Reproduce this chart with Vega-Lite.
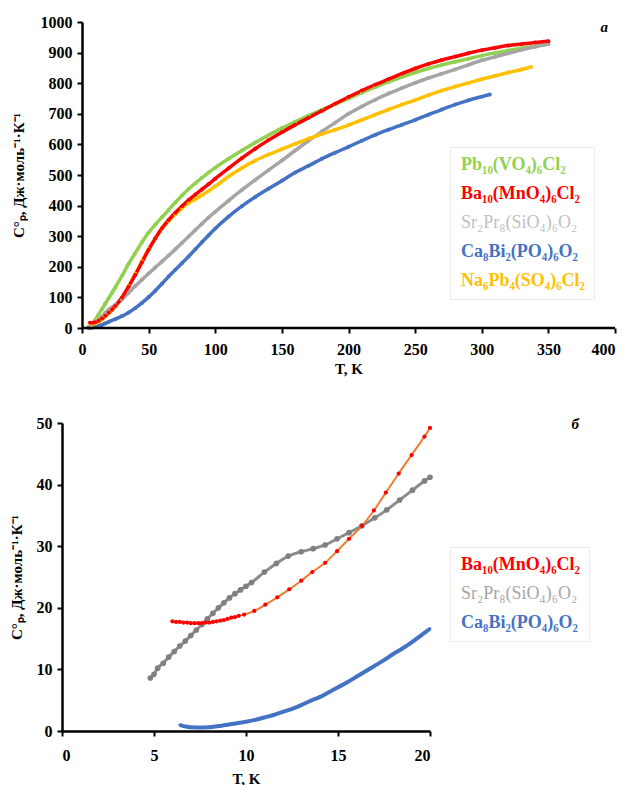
{
  "$schema": "https://vega.github.io/schema/vega-lite/v6.json",
  "padding": {"left": 9, "top": 14, "right": 0, "bottom": 0},
  "background": "white",
  "spacing": 39,
  "config": {
    "view": {"stroke": null},
    "axis": {
      "labelFont": "Liberation Serif", "labelFontWeight": "bold", "labelFontSize": 16, "labelColor": "black",
      "titleFont": "Liberation Serif", "titleFontWeight": "bold", "titleFontSize": 15, "titleColor": "black",
      "domainColor": "black", "domainWidth": 2.5, "tickColor": "black", "tickWidth": 2, "tickSize": 5,
      "grid": false
    },
    "axisX": {"labelPadding": 8},
    "axisY": {"labelPadding": 5},
    "text": {"font": "Liberation Serif"}
  },
  "resolve": {"scale": {"color": "independent"}, "legend": {"color": "independent"}},
  "datasets": {
    "top": [
      {"s":"Pb₁₀(VO₄)₆Cl₂","T":5,"Cp":3},{"s":"Pb₁₀(VO₄)₆Cl₂","T":7.5,"Cp":12},{"s":"Pb₁₀(VO₄)₆Cl₂","T":10,"Cp":27},{"s":"Pb₁₀(VO₄)₆Cl₂","T":12.5,"Cp":45},{"s":"Pb₁₀(VO₄)₆Cl₂","T":15,"Cp":62},{"s":"Pb₁₀(VO₄)₆Cl₂","T":17.5,"Cp":80},{"s":"Pb₁₀(VO₄)₆Cl₂","T":20,"Cp":97},{"s":"Pb₁₀(VO₄)₆Cl₂","T":22.5,"Cp":115},{"s":"Pb₁₀(VO₄)₆Cl₂","T":25,"Cp":133},{"s":"Pb₁₀(VO₄)₆Cl₂","T":30,"Cp":170},{"s":"Pb₁₀(VO₄)₆Cl₂","T":35,"Cp":210},{"s":"Pb₁₀(VO₄)₆Cl₂","T":40,"Cp":245},{"s":"Pb₁₀(VO₄)₆Cl₂","T":45,"Cp":280},{"s":"Pb₁₀(VO₄)₆Cl₂","T":50,"Cp":312},{"s":"Pb₁₀(VO₄)₆Cl₂","T":55,"Cp":338},{"s":"Pb₁₀(VO₄)₆Cl₂","T":60,"Cp":362},{"s":"Pb₁₀(VO₄)₆Cl₂","T":65,"Cp":386},{"s":"Pb₁₀(VO₄)₆Cl₂","T":70,"Cp":410},{"s":"Pb₁₀(VO₄)₆Cl₂","T":75,"Cp":433},{"s":"Pb₁₀(VO₄)₆Cl₂","T":80,"Cp":454},{"s":"Pb₁₀(VO₄)₆Cl₂","T":85,"Cp":473},{"s":"Pb₁₀(VO₄)₆Cl₂","T":90,"Cp":491},{"s":"Pb₁₀(VO₄)₆Cl₂","T":95,"Cp":508},{"s":"Pb₁₀(VO₄)₆Cl₂","T":100,"Cp":524},{"s":"Pb₁₀(VO₄)₆Cl₂","T":110,"Cp":553},{"s":"Pb₁₀(VO₄)₆Cl₂","T":120,"Cp":580},{"s":"Pb₁₀(VO₄)₆Cl₂","T":130,"Cp":606},{"s":"Pb₁₀(VO₄)₆Cl₂","T":140,"Cp":630},{"s":"Pb₁₀(VO₄)₆Cl₂","T":150,"Cp":653},{"s":"Pb₁₀(VO₄)₆Cl₂","T":160,"Cp":674},{"s":"Pb₁₀(VO₄)₆Cl₂","T":170,"Cp":694},{"s":"Pb₁₀(VO₄)₆Cl₂","T":180,"Cp":713},{"s":"Pb₁₀(VO₄)₆Cl₂","T":190,"Cp":731},{"s":"Pb₁₀(VO₄)₆Cl₂","T":200,"Cp":750},{"s":"Pb₁₀(VO₄)₆Cl₂","T":210,"Cp":769},{"s":"Pb₁₀(VO₄)₆Cl₂","T":220,"Cp":787},{"s":"Pb₁₀(VO₄)₆Cl₂","T":230,"Cp":804},{"s":"Pb₁₀(VO₄)₆Cl₂","T":240,"Cp":820},{"s":"Pb₁₀(VO₄)₆Cl₂","T":250,"Cp":835},{"s":"Pb₁₀(VO₄)₆Cl₂","T":260,"Cp":848},{"s":"Pb₁₀(VO₄)₆Cl₂","T":270,"Cp":860},{"s":"Pb₁₀(VO₄)₆Cl₂","T":280,"Cp":870},{"s":"Pb₁₀(VO₄)₆Cl₂","T":290,"Cp":880},{"s":"Pb₁₀(VO₄)₆Cl₂","T":300,"Cp":890},{"s":"Pb₁₀(VO₄)₆Cl₂","T":310,"Cp":899},{"s":"Pb₁₀(VO₄)₆Cl₂","T":320,"Cp":907},{"s":"Pb₁₀(VO₄)₆Cl₂","T":330,"Cp":914},{"s":"Pb₁₀(VO₄)₆Cl₂","T":340,"Cp":921},{"s":"Pb₁₀(VO₄)₆Cl₂","T":350,"Cp":928},
      {"s":"Sr₂Pr₈(SiO₄)₆O₂","T":5,"Cp":3},{"s":"Sr₂Pr₈(SiO₄)₆O₂","T":7.5,"Cp":8},{"s":"Sr₂Pr₈(SiO₄)₆O₂","T":10,"Cp":15},{"s":"Sr₂Pr₈(SiO₄)₆O₂","T":12.5,"Cp":25},{"s":"Sr₂Pr₈(SiO₄)₆O₂","T":15,"Cp":37},{"s":"Sr₂Pr₈(SiO₄)₆O₂","T":17.5,"Cp":50},{"s":"Sr₂Pr₈(SiO₄)₆O₂","T":20,"Cp":60},{"s":"Sr₂Pr₈(SiO₄)₆O₂","T":25,"Cp":76},{"s":"Sr₂Pr₈(SiO₄)₆O₂","T":30,"Cp":93},{"s":"Sr₂Pr₈(SiO₄)₆O₂","T":35,"Cp":115},{"s":"Sr₂Pr₈(SiO₄)₆O₂","T":40,"Cp":137},{"s":"Sr₂Pr₈(SiO₄)₆O₂","T":45,"Cp":158},{"s":"Sr₂Pr₈(SiO₄)₆O₂","T":50,"Cp":178},{"s":"Sr₂Pr₈(SiO₄)₆O₂","T":55,"Cp":198},{"s":"Sr₂Pr₈(SiO₄)₆O₂","T":60,"Cp":217},{"s":"Sr₂Pr₈(SiO₄)₆O₂","T":65,"Cp":237},{"s":"Sr₂Pr₈(SiO₄)₆O₂","T":70,"Cp":257},{"s":"Sr₂Pr₈(SiO₄)₆O₂","T":75,"Cp":278},{"s":"Sr₂Pr₈(SiO₄)₆O₂","T":80,"Cp":299},{"s":"Sr₂Pr₈(SiO₄)₆O₂","T":85,"Cp":320},{"s":"Sr₂Pr₈(SiO₄)₆O₂","T":90,"Cp":341},{"s":"Sr₂Pr₈(SiO₄)₆O₂","T":95,"Cp":361},{"s":"Sr₂Pr₈(SiO₄)₆O₂","T":100,"Cp":380},{"s":"Sr₂Pr₈(SiO₄)₆O₂","T":110,"Cp":416},{"s":"Sr₂Pr₈(SiO₄)₆O₂","T":120,"Cp":451},{"s":"Sr₂Pr₈(SiO₄)₆O₂","T":130,"Cp":484},{"s":"Sr₂Pr₈(SiO₄)₆O₂","T":140,"Cp":516},{"s":"Sr₂Pr₈(SiO₄)₆O₂","T":150,"Cp":547},{"s":"Sr₂Pr₈(SiO₄)₆O₂","T":160,"Cp":580},{"s":"Sr₂Pr₈(SiO₄)₆O₂","T":170,"Cp":612},{"s":"Sr₂Pr₈(SiO₄)₆O₂","T":180,"Cp":642},{"s":"Sr₂Pr₈(SiO₄)₆O₂","T":190,"Cp":671},{"s":"Sr₂Pr₈(SiO₄)₆O₂","T":200,"Cp":700},{"s":"Sr₂Pr₈(SiO₄)₆O₂","T":210,"Cp":724},{"s":"Sr₂Pr₈(SiO₄)₆O₂","T":220,"Cp":746},{"s":"Sr₂Pr₈(SiO₄)₆O₂","T":230,"Cp":766},{"s":"Sr₂Pr₈(SiO₄)₆O₂","T":240,"Cp":784},{"s":"Sr₂Pr₈(SiO₄)₆O₂","T":250,"Cp":801},{"s":"Sr₂Pr₈(SiO₄)₆O₂","T":260,"Cp":817},{"s":"Sr₂Pr₈(SiO₄)₆O₂","T":270,"Cp":831},{"s":"Sr₂Pr₈(SiO₄)₆O₂","T":280,"Cp":845},{"s":"Sr₂Pr₈(SiO₄)₆O₂","T":290,"Cp":860},{"s":"Sr₂Pr₈(SiO₄)₆O₂","T":300,"Cp":875},{"s":"Sr₂Pr₈(SiO₄)₆O₂","T":310,"Cp":886},{"s":"Sr₂Pr₈(SiO₄)₆O₂","T":320,"Cp":898},{"s":"Sr₂Pr₈(SiO₄)₆O₂","T":330,"Cp":909},{"s":"Sr₂Pr₈(SiO₄)₆O₂","T":340,"Cp":919},{"s":"Sr₂Pr₈(SiO₄)₆O₂","T":350,"Cp":928},
      {"s":"Ca₈Bi₂(PO₄)₆O₂","T":5,"Cp":0},{"s":"Ca₈Bi₂(PO₄)₆O₂","T":7.5,"Cp":1},{"s":"Ca₈Bi₂(PO₄)₆O₂","T":10,"Cp":3},{"s":"Ca₈Bi₂(PO₄)₆O₂","T":12.5,"Cp":6},{"s":"Ca₈Bi₂(PO₄)₆O₂","T":15,"Cp":10},{"s":"Ca₈Bi₂(PO₄)₆O₂","T":17.5,"Cp":15},{"s":"Ca₈Bi₂(PO₄)₆O₂","T":20,"Cp":20},{"s":"Ca₈Bi₂(PO₄)₆O₂","T":25,"Cp":29},{"s":"Ca₈Bi₂(PO₄)₆O₂","T":30,"Cp":39},{"s":"Ca₈Bi₂(PO₄)₆O₂","T":35,"Cp":51},{"s":"Ca₈Bi₂(PO₄)₆O₂","T":40,"Cp":65},{"s":"Ca₈Bi₂(PO₄)₆O₂","T":45,"Cp":82},{"s":"Ca₈Bi₂(PO₄)₆O₂","T":50,"Cp":101},{"s":"Ca₈Bi₂(PO₄)₆O₂","T":55,"Cp":122},{"s":"Ca₈Bi₂(PO₄)₆O₂","T":60,"Cp":145},{"s":"Ca₈Bi₂(PO₄)₆O₂","T":65,"Cp":168},{"s":"Ca₈Bi₂(PO₄)₆O₂","T":70,"Cp":190},{"s":"Ca₈Bi₂(PO₄)₆O₂","T":75,"Cp":212},{"s":"Ca₈Bi₂(PO₄)₆O₂","T":80,"Cp":234},{"s":"Ca₈Bi₂(PO₄)₆O₂","T":85,"Cp":257},{"s":"Ca₈Bi₂(PO₄)₆O₂","T":90,"Cp":280},{"s":"Ca₈Bi₂(PO₄)₆O₂","T":95,"Cp":303},{"s":"Ca₈Bi₂(PO₄)₆O₂","T":100,"Cp":325},{"s":"Ca₈Bi₂(PO₄)₆O₂","T":110,"Cp":364},{"s":"Ca₈Bi₂(PO₄)₆O₂","T":120,"Cp":398},{"s":"Ca₈Bi₂(PO₄)₆O₂","T":130,"Cp":428},{"s":"Ca₈Bi₂(PO₄)₆O₂","T":140,"Cp":455},{"s":"Ca₈Bi₂(PO₄)₆O₂","T":150,"Cp":481},{"s":"Ca₈Bi₂(PO₄)₆O₂","T":160,"Cp":508},{"s":"Ca₈Bi₂(PO₄)₆O₂","T":170,"Cp":530},{"s":"Ca₈Bi₂(PO₄)₆O₂","T":180,"Cp":553},{"s":"Ca₈Bi₂(PO₄)₆O₂","T":190,"Cp":573},{"s":"Ca₈Bi₂(PO₄)₆O₂","T":200,"Cp":592},{"s":"Ca₈Bi₂(PO₄)₆O₂","T":210,"Cp":612},{"s":"Ca₈Bi₂(PO₄)₆O₂","T":220,"Cp":631},{"s":"Ca₈Bi₂(PO₄)₆O₂","T":230,"Cp":648},{"s":"Ca₈Bi₂(PO₄)₆O₂","T":240,"Cp":664},{"s":"Ca₈Bi₂(PO₄)₆O₂","T":250,"Cp":680},{"s":"Ca₈Bi₂(PO₄)₆O₂","T":260,"Cp":697},{"s":"Ca₈Bi₂(PO₄)₆O₂","T":270,"Cp":714},{"s":"Ca₈Bi₂(PO₄)₆O₂","T":280,"Cp":730},{"s":"Ca₈Bi₂(PO₄)₆O₂","T":290,"Cp":744},{"s":"Ca₈Bi₂(PO₄)₆O₂","T":300,"Cp":756},{"s":"Ca₈Bi₂(PO₄)₆O₂","T":306,"Cp":763},
      {"s":"Na₆Pb₄(SO₄)₆Cl₂","T":7,"Cp":10},{"s":"Na₆Pb₄(SO₄)₆Cl₂","T":10,"Cp":15},{"s":"Na₆Pb₄(SO₄)₆Cl₂","T":12.5,"Cp":20},{"s":"Na₆Pb₄(SO₄)₆Cl₂","T":15,"Cp":28},{"s":"Na₆Pb₄(SO₄)₆Cl₂","T":17.5,"Cp":38},{"s":"Na₆Pb₄(SO₄)₆Cl₂","T":20,"Cp":48},{"s":"Na₆Pb₄(SO₄)₆Cl₂","T":22.5,"Cp":58},{"s":"Na₆Pb₄(SO₄)₆Cl₂","T":25,"Cp":70},{"s":"Na₆Pb₄(SO₄)₆Cl₂","T":30,"Cp":100},{"s":"Na₆Pb₄(SO₄)₆Cl₂","T":35,"Cp":137},{"s":"Na₆Pb₄(SO₄)₆Cl₂","T":40,"Cp":177},{"s":"Na₆Pb₄(SO₄)₆Cl₂","T":45,"Cp":218},{"s":"Na₆Pb₄(SO₄)₆Cl₂","T":50,"Cp":257},{"s":"Na₆Pb₄(SO₄)₆Cl₂","T":55,"Cp":293},{"s":"Na₆Pb₄(SO₄)₆Cl₂","T":60,"Cp":325},{"s":"Na₆Pb₄(SO₄)₆Cl₂","T":65,"Cp":350},{"s":"Na₆Pb₄(SO₄)₆Cl₂","T":70,"Cp":372},{"s":"Na₆Pb₄(SO₄)₆Cl₂","T":75,"Cp":392},{"s":"Na₆Pb₄(SO₄)₆Cl₂","T":80,"Cp":408},{"s":"Na₆Pb₄(SO₄)₆Cl₂","T":85,"Cp":421},{"s":"Na₆Pb₄(SO₄)₆Cl₂","T":90,"Cp":434},{"s":"Na₆Pb₄(SO₄)₆Cl₂","T":95,"Cp":448},{"s":"Na₆Pb₄(SO₄)₆Cl₂","T":100,"Cp":463},{"s":"Na₆Pb₄(SO₄)₆Cl₂","T":110,"Cp":495},{"s":"Na₆Pb₄(SO₄)₆Cl₂","T":120,"Cp":523},{"s":"Na₆Pb₄(SO₄)₆Cl₂","T":130,"Cp":547},{"s":"Na₆Pb₄(SO₄)₆Cl₂","T":140,"Cp":567},{"s":"Na₆Pb₄(SO₄)₆Cl₂","T":150,"Cp":585},{"s":"Na₆Pb₄(SO₄)₆Cl₂","T":160,"Cp":602},{"s":"Na₆Pb₄(SO₄)₆Cl₂","T":170,"Cp":619},{"s":"Na₆Pb₄(SO₄)₆Cl₂","T":180,"Cp":634},{"s":"Na₆Pb₄(SO₄)₆Cl₂","T":190,"Cp":648},{"s":"Na₆Pb₄(SO₄)₆Cl₂","T":200,"Cp":663},{"s":"Na₆Pb₄(SO₄)₆Cl₂","T":210,"Cp":680},{"s":"Na₆Pb₄(SO₄)₆Cl₂","T":220,"Cp":697},{"s":"Na₆Pb₄(SO₄)₆Cl₂","T":230,"Cp":714},{"s":"Na₆Pb₄(SO₄)₆Cl₂","T":240,"Cp":730},{"s":"Na₆Pb₄(SO₄)₆Cl₂","T":250,"Cp":745},{"s":"Na₆Pb₄(SO₄)₆Cl₂","T":260,"Cp":761},{"s":"Na₆Pb₄(SO₄)₆Cl₂","T":270,"Cp":776},{"s":"Na₆Pb₄(SO₄)₆Cl₂","T":280,"Cp":789},{"s":"Na₆Pb₄(SO₄)₆Cl₂","T":290,"Cp":801},{"s":"Na₆Pb₄(SO₄)₆Cl₂","T":300,"Cp":813},{"s":"Na₆Pb₄(SO₄)₆Cl₂","T":310,"Cp":824},{"s":"Na₆Pb₄(SO₄)₆Cl₂","T":320,"Cp":835},{"s":"Na₆Pb₄(SO₄)₆Cl₂","T":330,"Cp":845},{"s":"Na₆Pb₄(SO₄)₆Cl₂","T":337,"Cp":853},
      {"s":"Ba₁₀(MnO₄)₆Cl₂","T":6,"Cp":17},{"s":"Ba₁₀(MnO₄)₆Cl₂","T":8,"Cp":17},{"s":"Ba₁₀(MnO₄)₆Cl₂","T":10,"Cp":19},{"s":"Ba₁₀(MnO₄)₆Cl₂","T":12.5,"Cp":24},{"s":"Ba₁₀(MnO₄)₆Cl₂","T":15,"Cp":31},{"s":"Ba₁₀(MnO₄)₆Cl₂","T":17.5,"Cp":40},{"s":"Ba₁₀(MnO₄)₆Cl₂","T":20,"Cp":50},{"s":"Ba₁₀(MnO₄)₆Cl₂","T":22.5,"Cp":60},{"s":"Ba₁₀(MnO₄)₆Cl₂","T":25,"Cp":72},{"s":"Ba₁₀(MnO₄)₆Cl₂","T":30,"Cp":100},{"s":"Ba₁₀(MnO₄)₆Cl₂","T":35,"Cp":135},{"s":"Ba₁₀(MnO₄)₆Cl₂","T":40,"Cp":174},{"s":"Ba₁₀(MnO₄)₆Cl₂","T":45,"Cp":215},{"s":"Ba₁₀(MnO₄)₆Cl₂","T":50,"Cp":256},{"s":"Ba₁₀(MnO₄)₆Cl₂","T":55,"Cp":293},{"s":"Ba₁₀(MnO₄)₆Cl₂","T":60,"Cp":326},{"s":"Ba₁₀(MnO₄)₆Cl₂","T":65,"Cp":353},{"s":"Ba₁₀(MnO₄)₆Cl₂","T":70,"Cp":377},{"s":"Ba₁₀(MnO₄)₆Cl₂","T":75,"Cp":398},{"s":"Ba₁₀(MnO₄)₆Cl₂","T":80,"Cp":418},{"s":"Ba₁₀(MnO₄)₆Cl₂","T":85,"Cp":436},{"s":"Ba₁₀(MnO₄)₆Cl₂","T":90,"Cp":453},{"s":"Ba₁₀(MnO₄)₆Cl₂","T":95,"Cp":470},{"s":"Ba₁₀(MnO₄)₆Cl₂","T":100,"Cp":488},{"s":"Ba₁₀(MnO₄)₆Cl₂","T":110,"Cp":522},{"s":"Ba₁₀(MnO₄)₆Cl₂","T":120,"Cp":555},{"s":"Ba₁₀(MnO₄)₆Cl₂","T":130,"Cp":586},{"s":"Ba₁₀(MnO₄)₆Cl₂","T":140,"Cp":614},{"s":"Ba₁₀(MnO₄)₆Cl₂","T":150,"Cp":640},{"s":"Ba₁₀(MnO₄)₆Cl₂","T":160,"Cp":664},{"s":"Ba₁₀(MnO₄)₆Cl₂","T":170,"Cp":687},{"s":"Ba₁₀(MnO₄)₆Cl₂","T":180,"Cp":710},{"s":"Ba₁₀(MnO₄)₆Cl₂","T":190,"Cp":733},{"s":"Ba₁₀(MnO₄)₆Cl₂","T":200,"Cp":755},{"s":"Ba₁₀(MnO₄)₆Cl₂","T":210,"Cp":776},{"s":"Ba₁₀(MnO₄)₆Cl₂","T":220,"Cp":795},{"s":"Ba₁₀(MnO₄)₆Cl₂","T":230,"Cp":813},{"s":"Ba₁₀(MnO₄)₆Cl₂","T":240,"Cp":831},{"s":"Ba₁₀(MnO₄)₆Cl₂","T":250,"Cp":848},{"s":"Ba₁₀(MnO₄)₆Cl₂","T":260,"Cp":863},{"s":"Ba₁₀(MnO₄)₆Cl₂","T":270,"Cp":876},{"s":"Ba₁₀(MnO₄)₆Cl₂","T":280,"Cp":887},{"s":"Ba₁₀(MnO₄)₆Cl₂","T":290,"Cp":898},{"s":"Ba₁₀(MnO₄)₆Cl₂","T":300,"Cp":908},{"s":"Ba₁₀(MnO₄)₆Cl₂","T":310,"Cp":916},{"s":"Ba₁₀(MnO₄)₆Cl₂","T":320,"Cp":923},{"s":"Ba₁₀(MnO₄)₆Cl₂","T":330,"Cp":928},{"s":"Ba₁₀(MnO₄)₆Cl₂","T":340,"Cp":933},{"s":"Ba₁₀(MnO₄)₆Cl₂","T":350,"Cp":937}
    ],
    "bottom": [
      {"s":"Ca₈Bi₂(PO₄)₆O₂","T":6.4,"Cp":1.0},{"s":"Ca₈Bi₂(PO₄)₆O₂","T":6.6,"Cp":0.8},{"s":"Ca₈Bi₂(PO₄)₆O₂","T":6.8,"Cp":0.7},{"s":"Ca₈Bi₂(PO₄)₆O₂","T":7.0,"Cp":0.6},{"s":"Ca₈Bi₂(PO₄)₆O₂","T":7.5,"Cp":0.55},{"s":"Ca₈Bi₂(PO₄)₆O₂","T":8.0,"Cp":0.6},{"s":"Ca₈Bi₂(PO₄)₆O₂","T":8.5,"Cp":0.8},{"s":"Ca₈Bi₂(PO₄)₆O₂","T":9.0,"Cp":1.0},{"s":"Ca₈Bi₂(PO₄)₆O₂","T":9.5,"Cp":1.25},{"s":"Ca₈Bi₂(PO₄)₆O₂","T":10.0,"Cp":1.5},{"s":"Ca₈Bi₂(PO₄)₆O₂","T":10.5,"Cp":1.8},{"s":"Ca₈Bi₂(PO₄)₆O₂","T":11.0,"Cp":2.2},{"s":"Ca₈Bi₂(PO₄)₆O₂","T":11.5,"Cp":2.6},{"s":"Ca₈Bi₂(PO₄)₆O₂","T":12.0,"Cp":3.1},{"s":"Ca₈Bi₂(PO₄)₆O₂","T":12.5,"Cp":3.6},{"s":"Ca₈Bi₂(PO₄)₆O₂","T":13.0,"Cp":4.2},{"s":"Ca₈Bi₂(PO₄)₆O₂","T":13.5,"Cp":4.9},{"s":"Ca₈Bi₂(PO₄)₆O₂","T":14.0,"Cp":5.5},{"s":"Ca₈Bi₂(PO₄)₆O₂","T":14.5,"Cp":6.3},{"s":"Ca₈Bi₂(PO₄)₆O₂","T":15.0,"Cp":7.1},{"s":"Ca₈Bi₂(PO₄)₆O₂","T":15.5,"Cp":7.9},{"s":"Ca₈Bi₂(PO₄)₆O₂","T":16.0,"Cp":8.8},{"s":"Ca₈Bi₂(PO₄)₆O₂","T":16.5,"Cp":9.7},{"s":"Ca₈Bi₂(PO₄)₆O₂","T":17.0,"Cp":10.6},{"s":"Ca₈Bi₂(PO₄)₆O₂","T":17.5,"Cp":11.5},{"s":"Ca₈Bi₂(PO₄)₆O₂","T":18.0,"Cp":12.5},{"s":"Ca₈Bi₂(PO₄)₆O₂","T":18.5,"Cp":13.4},{"s":"Ca₈Bi₂(PO₄)₆O₂","T":19.0,"Cp":14.4},{"s":"Ca₈Bi₂(PO₄)₆O₂","T":19.5,"Cp":15.5},{"s":"Ca₈Bi₂(PO₄)₆O₂","T":20.0,"Cp":16.6},
      {"s":"Sr₂Pr₈(SiO₄)₆O₂","T":4.8,"Cp":8.6},{"s":"Sr₂Pr₈(SiO₄)₆O₂","T":5.0,"Cp":9.2},{"s":"Sr₂Pr₈(SiO₄)₆O₂","T":5.2,"Cp":10.2},{"s":"Sr₂Pr₈(SiO₄)₆O₂","T":5.5,"Cp":11.0},{"s":"Sr₂Pr₈(SiO₄)₆O₂","T":5.8,"Cp":12.0},{"s":"Sr₂Pr₈(SiO₄)₆O₂","T":6.1,"Cp":12.9},{"s":"Sr₂Pr₈(SiO₄)₆O₂","T":6.4,"Cp":13.8},{"s":"Sr₂Pr₈(SiO₄)₆O₂","T":6.7,"Cp":14.6},{"s":"Sr₂Pr₈(SiO₄)₆O₂","T":7.0,"Cp":15.5},{"s":"Sr₂Pr₈(SiO₄)₆O₂","T":7.3,"Cp":16.4},{"s":"Sr₂Pr₈(SiO₄)₆O₂","T":7.6,"Cp":17.3},{"s":"Sr₂Pr₈(SiO₄)₆O₂","T":7.9,"Cp":18.2},{"s":"Sr₂Pr₈(SiO₄)₆O₂","T":8.2,"Cp":19.1},{"s":"Sr₂Pr₈(SiO₄)₆O₂","T":8.5,"Cp":20.0},{"s":"Sr₂Pr₈(SiO₄)₆O₂","T":8.8,"Cp":20.8},{"s":"Sr₂Pr₈(SiO₄)₆O₂","T":9.1,"Cp":21.6},{"s":"Sr₂Pr₈(SiO₄)₆O₂","T":9.4,"Cp":22.3},{"s":"Sr₂Pr₈(SiO₄)₆O₂","T":9.7,"Cp":22.9},{"s":"Sr₂Pr₈(SiO₄)₆O₂","T":10.0,"Cp":23.5},{"s":"Sr₂Pr₈(SiO₄)₆O₂","T":10.3,"Cp":24.1},{"s":"Sr₂Pr₈(SiO₄)₆O₂","T":11.0,"Cp":25.8},{"s":"Sr₂Pr₈(SiO₄)₆O₂","T":11.65,"Cp":27.2},{"s":"Sr₂Pr₈(SiO₄)₆O₂","T":12.3,"Cp":28.4},{"s":"Sr₂Pr₈(SiO₄)₆O₂","T":13.0,"Cp":29.1},{"s":"Sr₂Pr₈(SiO₄)₆O₂","T":13.65,"Cp":29.6},{"s":"Sr₂Pr₈(SiO₄)₆O₂","T":14.3,"Cp":30.2},{"s":"Sr₂Pr₈(SiO₄)₆O₂","T":14.95,"Cp":31.2},{"s":"Sr₂Pr₈(SiO₄)₆O₂","T":15.6,"Cp":32.2},{"s":"Sr₂Pr₈(SiO₄)₆O₂","T":16.3,"Cp":33.3},{"s":"Sr₂Pr₈(SiO₄)₆O₂","T":17.0,"Cp":34.6},{"s":"Sr₂Pr₈(SiO₄)₆O₂","T":17.65,"Cp":35.9},{"s":"Sr₂Pr₈(SiO₄)₆O₂","T":18.35,"Cp":37.5},{"s":"Sr₂Pr₈(SiO₄)₆O₂","T":19.05,"Cp":39.1},{"s":"Sr₂Pr₈(SiO₄)₆O₂","T":19.7,"Cp":40.6},{"s":"Sr₂Pr₈(SiO₄)₆O₂","T":20.0,"Cp":41.2},
      {"s":"Ba₁₀(MnO₄)₆Cl₂","T":6.0,"Cp":17.8},{"s":"Ba₁₀(MnO₄)₆Cl₂","T":6.2,"Cp":17.7},{"s":"Ba₁₀(MnO₄)₆Cl₂","T":6.4,"Cp":17.7},{"s":"Ba₁₀(MnO₄)₆Cl₂","T":6.6,"Cp":17.6},{"s":"Ba₁₀(MnO₄)₆Cl₂","T":6.8,"Cp":17.6},{"s":"Ba₁₀(MnO₄)₆Cl₂","T":7.0,"Cp":17.5},{"s":"Ba₁₀(MnO₄)₆Cl₂","T":7.2,"Cp":17.5},{"s":"Ba₁₀(MnO₄)₆Cl₂","T":7.4,"Cp":17.5},{"s":"Ba₁₀(MnO₄)₆Cl₂","T":7.6,"Cp":17.5},{"s":"Ba₁₀(MnO₄)₆Cl₂","T":7.8,"Cp":17.6},{"s":"Ba₁₀(MnO₄)₆Cl₂","T":8.0,"Cp":17.6},{"s":"Ba₁₀(MnO₄)₆Cl₂","T":8.2,"Cp":17.7},{"s":"Ba₁₀(MnO₄)₆Cl₂","T":8.4,"Cp":17.8},{"s":"Ba₁₀(MnO₄)₆Cl₂","T":8.6,"Cp":17.9},{"s":"Ba₁₀(MnO₄)₆Cl₂","T":8.8,"Cp":18.0},{"s":"Ba₁₀(MnO₄)₆Cl₂","T":9.0,"Cp":18.2},{"s":"Ba₁₀(MnO₄)₆Cl₂","T":9.2,"Cp":18.4},{"s":"Ba₁₀(MnO₄)₆Cl₂","T":9.4,"Cp":18.5},{"s":"Ba₁₀(MnO₄)₆Cl₂","T":9.6,"Cp":18.7},{"s":"Ba₁₀(MnO₄)₆Cl₂","T":9.9,"Cp":18.9},{"s":"Ba₁₀(MnO₄)₆Cl₂","T":10.45,"Cp":19.5},{"s":"Ba₁₀(MnO₄)₆Cl₂","T":11.05,"Cp":20.5},{"s":"Ba₁₀(MnO₄)₆Cl₂","T":11.7,"Cp":21.7},{"s":"Ba₁₀(MnO₄)₆Cl₂","T":12.35,"Cp":23.0},{"s":"Ba₁₀(MnO₄)₆Cl₂","T":13.0,"Cp":24.4},{"s":"Ba₁₀(MnO₄)₆Cl₂","T":13.6,"Cp":25.8},{"s":"Ba₁₀(MnO₄)₆Cl₂","T":14.3,"Cp":27.3},{"s":"Ba₁₀(MnO₄)₆Cl₂","T":14.95,"Cp":29.2},{"s":"Ba₁₀(MnO₄)₆Cl₂","T":15.6,"Cp":31.2},{"s":"Ba₁₀(MnO₄)₆Cl₂","T":16.3,"Cp":33.3},{"s":"Ba₁₀(MnO₄)₆Cl₂","T":16.95,"Cp":35.8},{"s":"Ba₁₀(MnO₄)₆Cl₂","T":17.6,"Cp":38.7},{"s":"Ba₁₀(MnO₄)₆Cl₂","T":18.3,"Cp":41.8},{"s":"Ba₁₀(MnO₄)₆Cl₂","T":19.0,"Cp":44.8},{"s":"Ba₁₀(MnO₄)₆Cl₂","T":19.7,"Cp":47.8},{"s":"Ba₁₀(MnO₄)₆Cl₂","T":20.0,"Cp":49.2}
    ]
  },
  "vconcat": [
    {
      "width": 553,
      "height": 306,
      "data": {"name": "top"},
      "encoding": {
        "x": {"field": "T", "type": "quantitative", "scale": {"domain": [-15.01, 400], "nice": false, "zero": false},
              "axis": {"title": "T, K", "domain": false, "values": [0,50,100,150,200,250,300,350,400], "titlePadding": 4, "titleX": 286.5}},
        "y": {"field": "Cp", "type": "quantitative", "scale": {"domain": [0, 1000], "nice": false},
              "axis": {"title": "C°ₚ, Дж·моль⁻¹·К⁻¹", "format": "d", "offset": -20, "values": [0,100,200,300,400,500,600,700,800,900,1000], "titlePadding": 14}}
      },
      "layer": [
        {
          "mark": {"type": "line", "strokeWidth": 3.5, "interpolate": "monotone"},
          "encoding": {
            "color": {"field": "s", "type": "nominal",
              "scale": {"domain": ["Pb₁₀(VO₄)₆Cl₂","Ba₁₀(MnO₄)₆Cl₂","Sr₂Pr₈(SiO₄)₆O₂","Ca₈Bi₂(PO₄)₆O₂","Na₆Pb₄(SO₄)₆Cl₂"],
                        "range": ["#92D050","#FF0000","#A5A5A5","#4472C4","#FFC000"]},
              "legend": {
                "title": null, "orient": "none", "legendX": 388, "legendY": 125,
                "symbolType": "circle", "symbolSize": 1, "symbolOpacity": 0, "symbolStrokeWidth": 0, "labelOffset": -16,
                "labelFont": "Liberation Serif", "labelFontSize": 18, "labelLimit": 300,
                "rowPadding": 11, "padding": 9, "strokeColor": "#ECECEC", "fillColor": "white",
                "encode": {"labels": {"update": {
                  "fill": [
                    {"test": "datum.value === 'Pb₁₀(VO₄)₆Cl₂'", "value": "#92D050"},
                    {"test": "datum.value === 'Ba₁₀(MnO₄)₆Cl₂'", "value": "#FF0000"},
                    {"test": "datum.value === 'Sr₂Pr₈(SiO₄)₆O₂'", "value": "#BFBFBF"},
                    {"test": "datum.value === 'Ca₈Bi₂(PO₄)₆O₂'", "value": "#4472C4"},
                    {"value": "#FFC000"}
                  ],
                  "fontWeight": [
                    {"test": "datum.value === 'Sr₂Pr₈(SiO₄)₆O₂'", "value": "normal"},
                    {"value": "bold"}
                  ]
                }}}
              }
            }
          }
        },
        {
          "mark": {"type": "circle", "size": 16, "opacity": 1},
          "encoding": {"color": {"field": "s", "type": "nominal"}}
        },
        {
          "data": {"values": [{"T": 0, "T2": 400, "Cp": 0}]},
          "mark": {"type": "rule", "strokeWidth": 2.5, "color": "black"},
          "encoding": {"x2": {"field": "T2"}}
        },
        {
          "data": {"values": [{"label": "а", "T": 392, "Cp": 983}]},
          "mark": {"type": "text", "fontWeight": "bold", "fontStyle": "italic", "fontSize": 15, "color": "black"},
          "encoding": {"text": {"field": "label"}}
        }
      ]
    },
    {
      "width": 368,
      "height": 308,
      "data": {"name": "bottom"},
      "encoding": {
        "x": {"field": "T", "type": "quantitative", "scale": {"domain": [0, 20], "nice": false},
              "axis": {"title": "T, K", "values": [0,5,10,15,20], "labelPadding": 11, "titlePadding": 8}},
        "y": {"field": "Cp", "type": "quantitative", "scale": {"domain": [0, 50], "nice": false},
              "axis": {"title": "C°ₚ, Дж·моль⁻¹·К⁻¹", "values": [0,10,20,30,40,50], "titlePadding": 12}}
      },
      "layer": [
        {
          "mark": {"type": "line", "interpolate": "monotone"},
          "encoding": {
            "detail": {"field": "s", "type": "nominal"},
            "stroke": {"condition": [
              {"test": "datum.s === 'Ba₁₀(MnO₄)₆Cl₂'", "value": "#ED7D31"},
              {"test": "datum.s === 'Sr₂Pr₈(SiO₄)₆O₂'", "value": "#8C8C8C"}
            ], "value": "#4472C4"},
            "strokeWidth": {"condition": [
              {"test": "datum.s === 'Ba₁₀(MnO₄)₆Cl₂'", "value": 2},
              {"test": "datum.s === 'Sr₂Pr₈(SiO₄)₆O₂'", "value": 3}
            ], "value": 4}
          }
        },
        {
          "mark": {"type": "circle", "opacity": 1},
          "encoding": {
            "size": {"condition": [
              {"test": "datum.s === 'Ba₁₀(MnO₄)₆Cl₂'", "value": 18},
              {"test": "datum.s === 'Sr₂Pr₈(SiO₄)₆O₂'", "value": 32}
            ], "value": 8},
            "color": {"field": "s", "type": "nominal",
              "scale": {"domain": ["Ba₁₀(MnO₄)₆Cl₂","Sr₂Pr₈(SiO₄)₆O₂","Ca₈Bi₂(PO₄)₆O₂"], "range": ["#FF0000","#808080","#4472C4"]},
              "legend": {
                "title": null, "orient": "none", "legendX": 388, "legendY": 124,
                "symbolType": "circle", "symbolSize": 1, "symbolOpacity": 0, "symbolStrokeWidth": 0, "labelOffset": -16,
                "labelFont": "Liberation Serif", "labelFontSize": 18, "labelLimit": 300,
                "rowPadding": 11, "padding": 9, "strokeColor": "#ECECEC", "fillColor": "white",
                "encode": {"labels": {"update": {
                  "fill": [
                    {"test": "datum.value === 'Ba₁₀(MnO₄)₆Cl₂'", "value": "#FF0000"},
                    {"test": "datum.value === 'Sr₂Pr₈(SiO₄)₆O₂'", "value": "#A6A6A6"},
                    {"value": "#4472C4"}
                  ],
                  "fontWeight": [
                    {"test": "datum.value === 'Sr₂Pr₈(SiO₄)₆O₂'", "value": "normal"},
                    {"value": "bold"}
                  ]
                }}}
              }
            }
          }
        },
        {
          "data": {"values": [{"label": "б", "T": 27.9, "Cp": 49.8}]},
          "mark": {"type": "text", "fontWeight": "bold", "fontStyle": "italic", "fontSize": 15, "color": "black"},
          "encoding": {"text": {"field": "label"}}
        }
      ]
    }
  ]
}
